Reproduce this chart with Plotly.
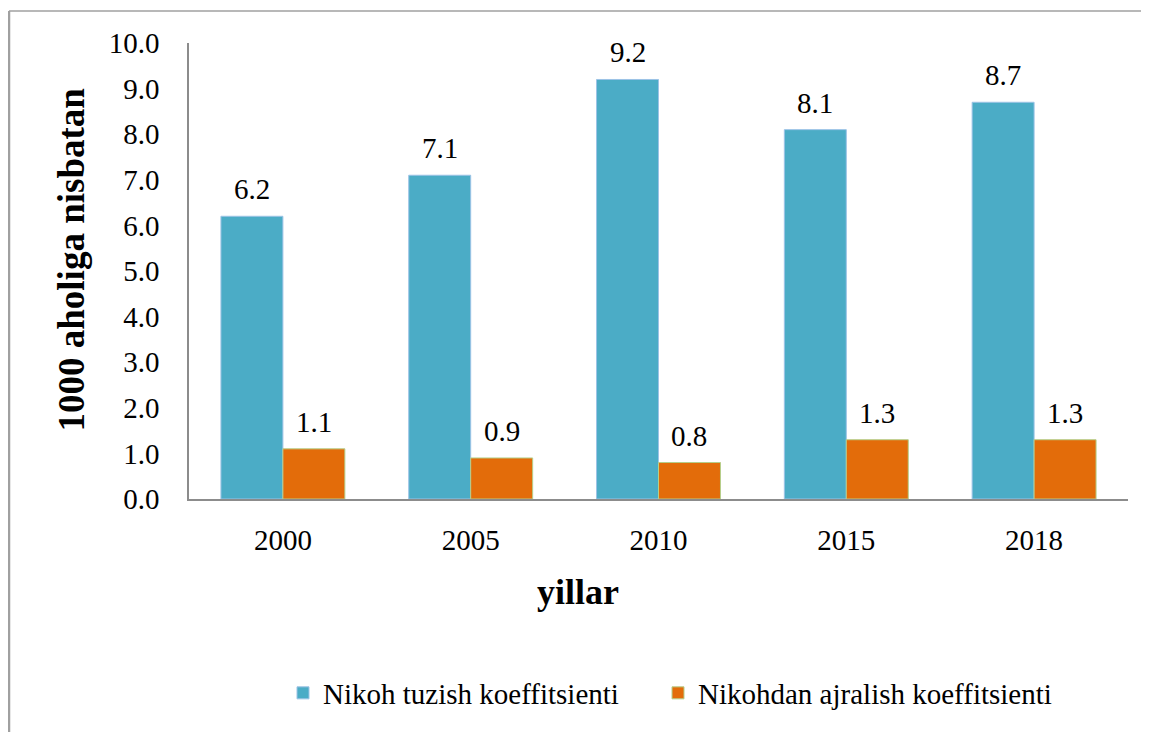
import plotly.graph_objects as go

# chart data
years = ["2000", "2005", "2010", "2015", "2018"]
nikoh = [6.2, 7.1, 9.2, 8.1, 8.7]
ajralish = [1.1, 0.9, 0.8, 1.3, 1.3]
series_names = ["Nikoh tuzish koeffitsienti", "Nikohdan ajralish koeffitsienti"]
y_ticks = [0, 1, 2, 3, 4, 5, 6, 7, 8, 9, 10]

# page body has an 8px margin, so the figure is drawn 8px smaller
OFF = 8
W, H = 1149, 733
# plot area in window pixels
X0, X1, Y0, Y1 = 189, 1128, 43, 499
PW, PH = X1 - X0, Y1 - Y0


def px(x):
    return (x - X0) / PW


def py(y):
    return (Y1 - y) / PH


FONT = "Liberation Serif, Times New Roman, serif"
FS = 29
BLUE = "#4BACC6"
ORANGE = "#E36C0A"
GREY = "#8c8c8c"
FRAME = "#a0a0a0"

fig = go.Figure()
fig.add_trace(go.Bar(
    x=years, y=nikoh, name=series_names[0], legend="legend",
    marker=dict(color=BLUE, line=dict(color="#9cc3e6", width=1)),
))
fig.add_trace(go.Bar(
    x=years, y=ajralish, name=series_names[1], legend="legend2",
    marker=dict(color=ORANGE, line=dict(color="#b5cf8a", width=1)),
))

# value labels above the bars (x given as category index)
half = PW / len(years) * (1 - 0.34) / 4
annotations = []
for vals, shift in ((nikoh, -half), (ajralish, half)):
    for i, v in enumerate(vals):
        annotations.append(dict(
            x=i, y=v, xref="x", yref="y", text=f"{v:.1f}",
            showarrow=False, xshift=shift, yshift=27, yanchor="middle",
            font=dict(family=FONT, size=FS, color="black"),
        ))

# axis titles
annotations.append(dict(
    x=px(48), y=py(260), xref="paper", yref="paper",
    text="<b>1000 aholiga nisbatan</b>", textangle=-90, showarrow=False,
    font=dict(family=FONT, size=37, color="black"),
))
annotations.append(dict(
    x=px(578), y=py(614), xref="paper", yref="paper",
    text="<b>yillar</b>", showarrow=False,
    font=dict(family=FONT, size=36, color="black"),
))

# outer frame (left + top edges)
shapes = [
    dict(type="line", xref="paper", yref="paper", layer="above",
         x0=px(9), x1=px(9), y0=py(11), y1=py(H - 1),
         line=dict(color=FRAME, width=2.5)),
    dict(type="line", xref="paper", yref="paper", layer="above",
         x0=px(9), x1=px(W - 1), y0=py(11), y1=py(11),
         line=dict(color=FRAME, width=1.5)),
]

legend_common = dict(
    orientation="h", xanchor="left", yanchor="middle",
    font=dict(family=FONT, size=FS, color="black"), itemwidth=30,
)

fig.update_layout(
    width=W - OFF, height=H - OFF,
    margin=dict(l=X0 - OFF, r=W - X1, t=Y0 - OFF, b=H - Y1),
    paper_bgcolor="white", plot_bgcolor="white",
    barmode="group", bargap=0.34, bargroupgap=0,
    font=dict(family=FONT, size=FS, color="black"),
    showlegend=True,
    legend=dict(x=px(283), y=py(693), **legend_common),
    legend2=dict(x=px(658), y=py(693), **legend_common),
    annotations=annotations,
    shapes=shapes,
)
fig.update_xaxes(
    type="category", range=[-0.5, len(years) - 0.5],
    showline=True, linecolor=GREY, linewidth=1.5, showgrid=False,
    ticks="", ticklabelstandoff=14, tickfont=dict(family=FONT, size=FS),
)
fig.update_yaxes(
    range=[0, 10], tickvals=y_ticks, tickformat=".1f",
    showline=True, linecolor=GREY, linewidth=1.5, showgrid=False,
    zeroline=False, ticks="", ticklabelstandoff=22,
    tickfont=dict(family=FONT, size=FS),
)

fig.write_html("out.html")
